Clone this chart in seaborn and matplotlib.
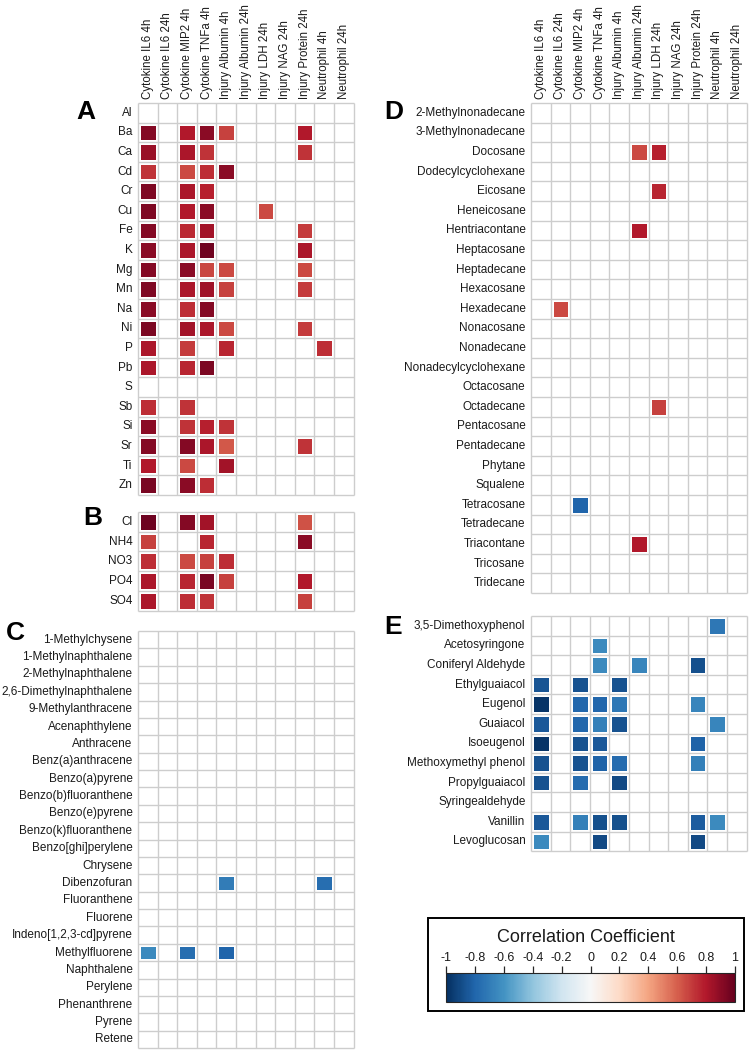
import numpy as np
import pandas as pd
import matplotlib
matplotlib.use("Agg")
import matplotlib.pyplot as plt
import seaborn as sns
from matplotlib.patches import Rectangle
from matplotlib.cm import ScalarMappable
from matplotlib.colors import Normalize

n = np.nan

columns = ["Cytokine IL6 4h", "Cytokine IL6 24h", "Cytokine MIP2 4h", "Cytokine TNFa 4h",
           "Injury Albumin 4h", "Injury Albumin 24h", "Injury LDH 24h", "Injury NAG 24h",
           "Injury Protein 24h", "Neutrophil 4h", "Neutrophil 24h"]

rows_a = ["Al", "Ba", "Ca", "Cd", "Cr", "Cu", "Fe", "K", "Mg", "Mn", "Na", "Ni", "P", "Pb",
          "S", "Sb", "Si", "Sr", "Ti", "Zn"]
vals_a = [
    [n, n, n, n, n, n, n, n, n, n, n],
    [0.92, n, 0.80, 0.90, 0.68, n, n, n, 0.80, n, n],
    [0.86, n, 0.82, 0.72, n, n, n, n, 0.72, n, n],
    [0.72, n, 0.66, 0.74, 0.90, n, n, n, n, n, n],
    [0.93, n, 0.82, 0.78, n, n, n, n, n, n, n],
    [0.93, n, 0.80, 0.90, n, n, 0.66, n, n, n, n],
    [0.92, n, 0.75, 0.84, n, n, n, n, 0.70, n, n],
    [0.90, n, 0.82, 0.97, n, n, n, n, 0.82, n, n],
    [0.92, n, 0.90, 0.67, 0.66, n, n, n, 0.66, n, n],
    [0.93, n, 0.82, 0.85, 0.68, n, n, n, 0.70, n, n],
    [0.90, n, 0.74, 0.92, n, n, n, n, n, n, n],
    [0.94, n, 0.84, 0.82, 0.66, n, n, n, 0.70, n, n],
    [0.82, n, 0.70, n, 0.76, n, n, n, n, 0.74, n],
    [0.82, n, 0.76, 0.94, n, n, n, n, n, n, n],
    [n, n, n, n, n, n, n, n, n, n, n],
    [0.74, n, 0.72, n, n, n, n, n, n, n, n],
    [0.90, n, 0.72, 0.78, 0.72, n, n, n, n, n, n],
    [0.92, n, 0.92, 0.82, 0.62, n, n, n, 0.72, n, n],
    [0.80, n, 0.66, n, 0.84, n, n, n, n, n, n],
    [0.95, n, 0.90, 0.74, n, n, n, n, n, n, n],
]

rows_b = ["Cl", "NH4", "NO3", "PO4", "SO4"]
vals_b = [
    [0.98, n, 0.92, 0.84, n, n, n, n, 0.64, n, n],
    [0.68, n, n, 0.76, n, n, n, n, 0.90, n, n],
    [0.74, n, 0.66, 0.68, 0.74, n, n, n, n, n, n],
    [0.82, n, 0.76, 0.95, 0.68, n, n, n, 0.80, n, n],
    [0.82, n, 0.74, 0.72, n, n, n, n, 0.68, n, n],
]

rows_c = ["1-Methylchysene", "1-Methylnaphthalene", "2-Methylnaphthalene",
          "2,6-Dimethylnaphthalene", "9-Methylanthracene", "Acenaphthylene", "Anthracene",
          "Benz(a)anthracene", "Benzo(a)pyrene", "Benzo(b)fluoranthene", "Benzo(e)pyrene",
          "Benzo(k)fluoranthene", "Benzo[ghi]perylene", "Chrysene", "Dibenzofuran",
          "Fluoranthene", "Fluorene", "Indeno[1,2,3-cd]pyrene", "Methylfluorene",
          "Naphthalene", "Perylene", "Phenanthrene", "Pyrene", "Retene"]
vals_c = [[n] * 11 for _ in rows_c]
vals_c[14] = [n, n, n, n, -0.70, n, n, n, n, -0.76, n]
vals_c[18] = [-0.64, n, -0.76, n, -0.80, n, n, n, n, n, n]

rows_d = ["2-Methylnonadecane", "3-Methylnonadecane", "Docosane", "Dodecylcyclohexane",
          "Eicosane", "Heneicosane", "Hentriacontane", "Heptacosane", "Heptadecane",
          "Hexacosane", "Hexadecane", "Nonacosane", "Nonadecane", "Nonadecylcyclohexane",
          "Octacosane", "Octadecane", "Pentacosane", "Pentadecane", "Phytane", "Squalene",
          "Tetracosane", "Tetradecane", "Triacontane", "Tricosane", "Tridecane"]
vals_d = [[n] * 11 for _ in rows_d]
vals_d[2] = [n, n, n, n, n, 0.66, 0.78, n, n, n, n]
vals_d[4] = [n, n, n, n, n, n, 0.76, n, n, n, n]
vals_d[6] = [n, n, n, n, n, 0.80, n, n, n, n, n]
vals_d[10] = [n, 0.66, n, n, n, n, n, n, n, n, n]
vals_d[15] = [n, n, n, n, n, n, 0.68, n, n, n, n]
vals_d[20] = [n, n, -0.80, n, n, n, n, n, n, n, n]
vals_d[22] = [n, n, n, n, n, 0.80, n, n, n, n, n]

rows_e = ["3,5-Dimethoxyphenol", "Acetosyringone", "Coniferyl Aldehyde", "Ethylguaiacol",
          "Eugenol", "Guaiacol", "Isoeugenol", "Methoxymethyl phenol", "Propylguaiacol",
          "Syringealdehyde", "Vanillin", "Levoglucosan"]
vals_e = [
    [n, n, n, n, n, n, n, n, n, -0.72, n],
    [n, n, n, -0.64, n, n, n, n, n, n, n],
    [n, n, n, -0.64, n, -0.66, n, n, -0.88, n, n],
    [-0.86, n, -0.87, n, -0.87, n, n, n, n, n, n],
    [-0.98, n, -0.79, -0.79, -0.72, n, n, n, -0.66, n, n],
    [-0.85, n, -0.79, -0.68, -0.87, n, n, n, n, -0.66, n],
    [-0.98, n, -0.87, -0.85, n, n, n, n, -0.81, n, n],
    [-0.87, n, -0.87, -0.81, -0.77, n, n, n, -0.68, n, n],
    [-0.87, n, -0.77, n, -0.90, n, n, n, n, n, n],
    [n, n, n, n, n, n, n, n, n, n, n],
    [-0.85, n, -0.68, -0.88, -0.88, n, n, n, -0.83, -0.64, n],
    [-0.64, n, n, -0.90, n, n, n, n, -0.90, n, n],
]

cbar_ticks = [-1, -0.8, -0.6, -0.4, -0.2, 0, 0.2, 0.4, 0.6, 0.8, 1]
cbar_labels = ["-1", "-0.8", "-0.6", "-0.4", "-0.2", "0", "0.2", "0.4", "0.6", "0.8", "1"]

sns.set_style("white")
plt.rcParams["font.family"] = ["Liberation Sans", "DejaVu Sans"]
TXT = "#1a1a1a"
GRID = "#cdcdcd"

W, H = 749, 1050
fig = plt.figure(figsize=(W / 100, H / 100), dpi=100)


def add_ax(left, top, width, height):
    return fig.add_axes([left / W, 1 - (top + height) / H, width / W, height / H])


def panel(ax, rows, vals, show_cols):
    df = pd.DataFrame(vals, index=rows, columns=columns)
    sns.heatmap(df, ax=ax, cmap="RdBu_r", vmin=-1, vmax=1, cbar=False,
                linewidths=2.2, linecolor="white", mask=df.isna(),
                xticklabels=columns if show_cols else False, yticklabels=rows)
    nr, nc = df.shape
    ax.hlines(np.arange(nr + 1), 0, nc, color=GRID, lw=1.0, zorder=5, clip_on=False)
    ax.vlines(np.arange(nc + 1), 0, nr, color=GRID, lw=1.0, zorder=5, clip_on=False)
    for s in ax.spines.values():
        s.set_visible(False)
    ax.set_xlabel("")
    ax.set_ylabel("")
    ax.tick_params(axis="y", length=0, pad=4, labelsize=8.5, labelcolor=TXT, rotation=0)
    if show_cols:
        ax.xaxis.tick_top()
        ax.tick_params(axis="x", length=0, pad=3, labelsize=8.3, labelcolor=TXT,
                       rotation=90)
        for lab in ax.get_xticklabels():
            lab.set_verticalalignment("bottom")


cw = 19.6
axA = add_ax(138, 103, 11 * cw, 20 * cw)
panel(axA, rows_a, vals_a, True)
axB = add_ax(138, 512, 11 * cw, 5 * 19.7)
panel(axB, rows_b, vals_b, False)
axC = add_ax(138, 631, 11 * cw, 24 * 17.38)
panel(axC, rows_c, vals_c, False)
axD = add_ax(531, 103, 11 * cw, 25 * cw)
panel(axD, rows_d, vals_d, True)
axE = add_ax(531, 616, 11 * cw, 12 * cw)
panel(axE, rows_e, vals_e, False)

for letter, (x, y) in {"A": (86, 112), "B": (93, 518), "C": (15, 633),
                       "D": (394, 112), "E": (393, 627)}.items():
    fig.text(x / W, 1 - y / H, letter, fontsize=19, fontweight="bold",
             ha="center", va="center", color="black")

# colorbar legend
fig.patches.append(Rectangle((428 / W, 1 - 1011 / H), (744 - 428) / W, (1011 - 918) / H,
                             transform=fig.transFigure, fill=False, edgecolor="black",
                             lw=1.4))
cax = add_ax(446, 973, 289, 29)
sm = ScalarMappable(norm=Normalize(-1, 1), cmap="RdBu_r")
cb = fig.colorbar(sm, cax=cax, orientation="horizontal", ticks=cbar_ticks)
cb.ax.xaxis.set_ticks_position("top")
cb.ax.set_xticklabels(cbar_labels)
cb.ax.tick_params(axis="x", direction="out", length=5, width=0.9, pad=1.5,
                  labelsize=9, labelcolor=TXT)
cb.outline.set_linewidth(0.8)
fig.text(586 / W, 1 - 937 / H, "Correlation Coefficient", fontsize=13,
         ha="center", va="center", color=TXT)

fig.savefig("out.png", dpi=100)
